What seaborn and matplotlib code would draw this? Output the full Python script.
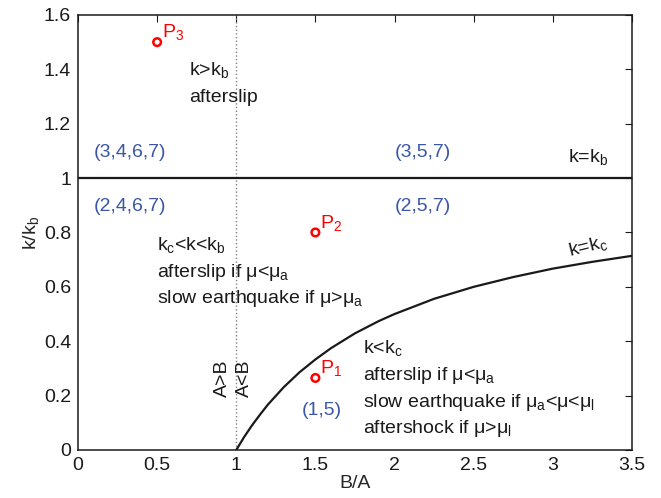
import matplotlib
matplotlib.use("Agg")
import matplotlib.pyplot as plt
import seaborn as sns
import numpy as np

# stability boundary k = kc
kc_x = [1.0, 1.05, 1.1, 1.15, 1.2, 1.3, 1.4, 1.5, 1.6, 1.75, 1.9, 2.0,
        2.25, 2.5, 2.75, 3.0, 3.25, 3.5]
kc_y = [0.0, 0.048, 0.091, 0.130, 0.167, 0.231, 0.286, 0.333, 0.375, 0.429,
        0.474, 0.5, 0.556, 0.6, 0.636, 0.667, 0.692, 0.714]

# k = kb line
kb_x = [0.0, 3.5]
kb_y = [1.0, 1.0]

# sample points
pt_names = ["P$_1$", "P$_2$", "P$_3$"]
pt_x = [1.5, 1.5, 0.5]
pt_y = [0.265, 0.8, 1.5]

# region tags
tags = ["(3,4,6,7)", "(2,4,6,7)", "(3,5,7)", "(2,5,7)", "(1,5)"]
tag_x = [0.1, 0.1, 2.0, 2.0, 1.54]
tag_y = [1.095, 0.895, 1.095, 0.895, 0.144]

# regime descriptions, one entry per line
upper_lines = ["k>k$_b$", "afterslip"]
upper_y = [1.379, 1.28]
mid_lines = ["k$_c$<k<k$_b$", "afterslip if μ<μ$_a$", "slow earthquake if μ>μ$_a$"]
mid_y = [0.736, 0.636, 0.541]
low_lines = ["k<k$_c$", "afterslip if μ<μ$_a$",
             "slow earthquake if μ$_a$<μ<μ$_l$", "aftershock if μ>μ$_l$"]
low_y = [0.357, 0.257, 0.158, 0.0625]

x_ticks = [0, 0.5, 1, 1.5, 2, 2.5, 3, 3.5]
y_ticks = [0, 0.2, 0.4, 0.6, 0.8, 1.0, 1.2, 1.4, 1.6]

sns.set_theme(style="white")
plt.rcParams["font.family"] = ["Liberation Sans", "DejaVu Sans"]
plt.rcParams["mathtext.fontset"] = "custom"
plt.rcParams["mathtext.rm"] = "Liberation Sans"
plt.rcParams["mathtext.it"] = "Liberation Sans"
plt.rcParams["mathtext.default"] = "regular"
plt.rcParams["text.color"] = "k"

fig, ax = plt.subplots(figsize=(6.61, 4.98), dpi=100)
fig.subplots_adjust(left=0.118, right=0.956, bottom=0.0964, top=0.970)

fs = 14
blue = "#3a56a8"

ax.axvline(1, color="grey", ls=":", lw=1)
sns.lineplot(x=kb_x, y=kb_y, color="k", lw=1.6, ax=ax)
sns.lineplot(x=kc_x, y=kc_y, color="k", lw=1.6, ax=ax)
sns.scatterplot(x=pt_x, y=pt_y, marker="o", s=30, facecolor="none",
                edgecolor="red", linewidth=1.8, ax=ax, zorder=5)

for name, px, py in zip(pt_names, pt_x, pt_y):
    ax.text(px + 0.03, py + 0.018, name, color="red", fontsize=fs,
            ha="left", va="baseline")

for t, tx, ty in zip(tags, tag_x, tag_y):
    ax.text(tx, ty, t, color=blue, fontsize=fs,
            ha="left" if t != "(1,5)" else "center", va="center")

for line, ly in zip(upper_lines, upper_y):
    ax.text(0.70, ly, line, fontsize=fs, ha="left", va="baseline")
for line, ly in zip(mid_lines, mid_y):
    ax.text(0.5, ly, line, fontsize=fs, ha="left", va="baseline")
for line, ly in zip(low_lines, low_y):
    ax.text(1.8, ly, line, fontsize=fs, ha="left", va="baseline")

ax.text(3.35, 1.059, "k=k$_b$", fontsize=fs, ha="right", va="baseline")
ax.text(3.22, 0.75, "k=k$_c$", fontsize=fs, ha="center", va="center", rotation=14)

ax.text(0.91, 0.265, "A>B", fontsize=fs, rotation=90, ha="center", va="center")
ax.text(1.05, 0.265, "A<B", fontsize=fs, rotation=90, ha="center", va="center")

ax.set_xlim(0, 3.5)
ax.set_ylim(0, 1.6)
ax.set_xticks(x_ticks)
ax.set_yticks(y_ticks)
ax.xaxis.set_major_formatter(plt.FuncFormatter(lambda v, _: f"{v:g}"))
ax.yaxis.set_major_formatter(plt.FuncFormatter(lambda v, _: f"{v:g}"))
ax.tick_params(direction="in", top=True, right=True, length=5, width=0.8,
               labelsize=fs, colors="k", pad=5)
for sp in ax.spines.values():
    sp.set_color("k")
    sp.set_linewidth(1.1)
ax.set_xlabel("B/A", fontsize=fs, labelpad=1)
ax.set_ylabel("k/k$_b$", fontsize=fs, labelpad=2)

fig.savefig("out.png", dpi=100)
